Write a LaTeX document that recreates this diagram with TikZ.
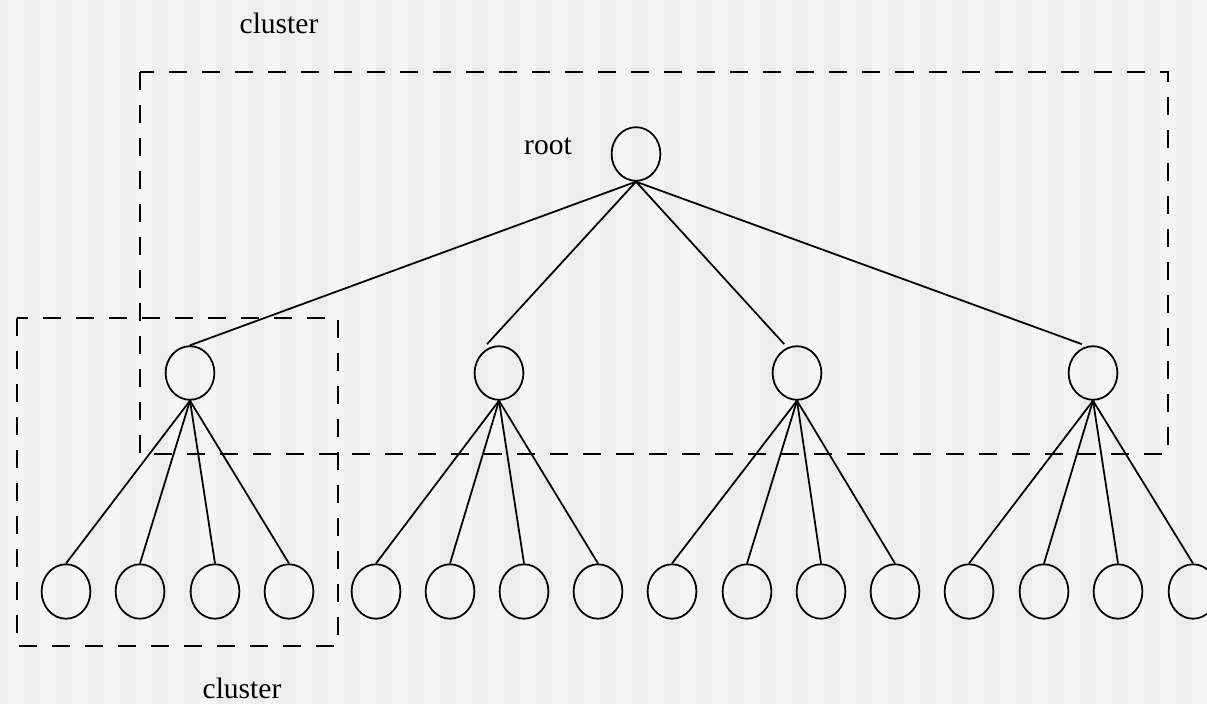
\documentclass[tikz,border=0pt]{standalone}
\usepackage{fontspec}
\setmainfont{Liberation Serif}
\usetikzlibrary{shapes.geometric}
\definecolor{bglight}{HTML}{F5F5F5}
\definecolor{bgdark}{HTML}{EDEDED}

\begin{document}
\begin{tikzpicture}[x=0.025cm, y=-0.025cm,
  font=\fontsize{21}{25}\selectfont, line width=1.25pt,
  vtx/.style={draw, ellipse, minimum width=1.22cm, minimum height=1.34cm, inner sep=0pt},
  leaf/.style={vtx, minimum height=1.36cm},
  clusterbox/.style={draw, dash pattern=on 0.45cm off 0.375cm},
  lab/.style={anchor=base, inner sep=0pt}]
% ---------------- background (pixel units, y down)
\useasboundingbox (0,0) rectangle (1207,704);
\fill[bglight] (0,0) rectangle (1207,704);
\foreach \k in {0,...,38} \fill[bgdark] (32*\k-8,0) rectangle (32*\k+8,704);
% ---------------- clusters
\draw[clusterbox] (140,72) rectangle (1168,454);
\draw[clusterbox] (17,318) rectangle (338,646);
\node[lab] (ctop) at (279,33)  {cluster};
\node[lab] (cbot) at (242,698) {cluster};
% ---------------- nodes
\node[vtx] (root) at (636,154) {};
\node[lab] (rlab) at (548,154) {root};
\node[vtx] (c1) at (190,373)  {};
\node[vtx] (c2) at (499,373)  {};
\node[vtx] (c3) at (797,373)  {};
\node[vtx] (c4) at (1093,373) {};
\node[leaf] (l1)  at (66,591.5)   {};
\node[leaf] (l2)  at (140,591.5)  {};
\node[leaf] (l3)  at (215,591.5)  {};
\node[leaf] (l4)  at (289,591.5)  {};
\node[leaf] (l5)  at (376,591.5)  {};
\node[leaf] (l6)  at (450,591.5)  {};
\node[leaf] (l7)  at (524,591.5)  {};
\node[leaf] (l8)  at (598,591.5)  {};
\node[leaf] (l9)  at (672,591.5)  {};
\node[leaf] (l10) at (747,591.5)  {};
\node[leaf] (l11) at (821,591.5)  {};
\node[leaf] (l12) at (895,591.5)  {};
\node[leaf] (l13) at (969,591.5)  {};
\node[leaf] (l14) at (1044,591.5) {};
\node[leaf] (l15) at (1118,591.5) {};
\node[leaf] (l16) at (1193,591.5) {};
% ---------------- edges
\draw (root.south) -- (c1.north);
\draw (root.south) -- ([xshift=-0.3cm, yshift=0.03cm]c2.north);
\draw (root.south) -- ([xshift=-0.32cm, yshift=0.03cm]c3.north);
\draw (root.south) -- ([xshift=-0.28cm, yshift=0.03cm]c4.north);
\draw (c1.south) -- (l1.north);
\draw (c1.south) -- (l2.north);
\draw (c1.south) -- (l3.north);
\draw (c1.south) -- (l4.north);
\draw (c2.south) -- (l5.north);
\draw (c2.south) -- (l6.north);
\draw (c2.south) -- (l7.north);
\draw (c2.south) -- (l8.north);
\draw (c3.south) -- (l9.north);
\draw (c3.south) -- (l10.north);
\draw (c3.south) -- (l11.north);
\draw (c3.south) -- (l12.north);
\draw (c4.south) -- (l13.north);
\draw (c4.south) -- (l14.north);
\draw (c4.south) -- (l15.north);
\draw (c4.south) -- (l16.north);
\end{tikzpicture}
\end{document}
